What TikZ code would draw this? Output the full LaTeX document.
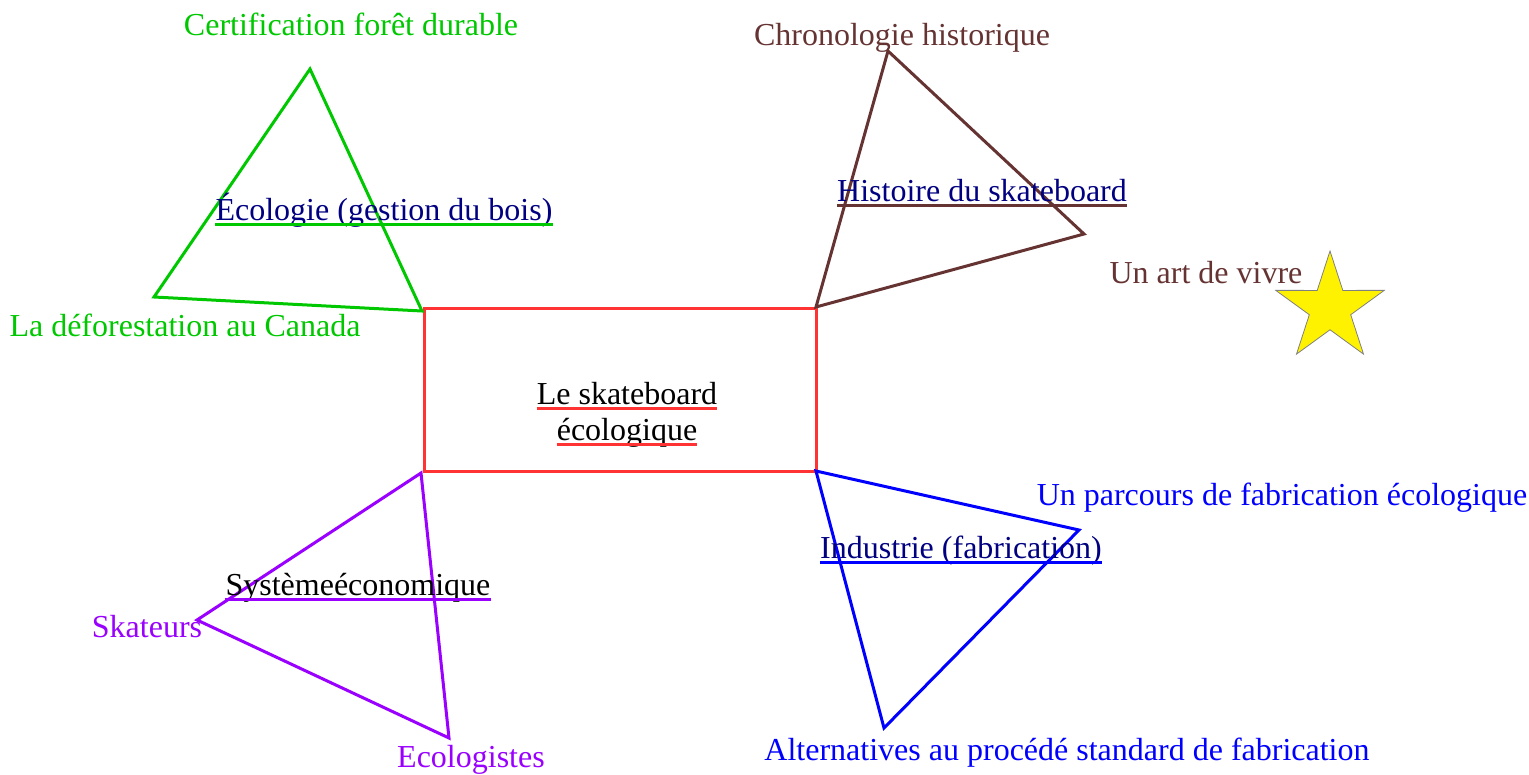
\documentclass[tikz,border=0pt]{standalone}
\usepackage{fontspec}
\setmainfont{Liberation Serif}
\usetikzlibrary{shapes.geometric}
\definecolor{cred}{HTML}{FF3333}
\definecolor{cgreen}{HTML}{00C800}
\definecolor{cbrown}{HTML}{663333}
\definecolor{cpurple}{HTML}{9900FF}
\definecolor{cblue}{HTML}{0000FF}
\definecolor{cnavy}{HTML}{000080}
\tikzset{
  lbl/.style={anchor=base, inner sep=0pt, font=\fontsize{32}{38}\selectfont},
  edge/.style={line width=3pt, line join=miter},
  uline/.style={line width=2.5pt}
}
\newcommand{\ulnode}[2]{\draw[uline,#2] ([yshift=-4.5pt]#1.base west) -- ([yshift=-4.5pt]#1.base east);}
\begin{document}
\begin{tikzpicture}[x=1pt,y=-1pt]
\useasboundingbox (0,0) rectangle (1529,774);
% central box
\node[draw=cred, edge, minimum width=392pt, minimum height=163pt, inner sep=0pt] (box) at (620,389.5) {};
\node[lbl] (c1) at (627,404) {Le skateboard};
\node[lbl] (c2) at (627,440) {écologique};
\ulnode{c1}{cred}
\ulnode{c2}{cred}
% green triangle
\coordinate (g1) at (310,69);
\coordinate (g2) at (154,297);
\coordinate (g3) at (422,311);
\draw[edge, cgreen] (g1) -- (g2) -- (g3) -- cycle;
\node[lbl, text=cgreen] (gt) at (351,35) {Certification forêt durable};
\node[lbl, text=cgreen] (gl) at (185,336) {La déforestation au Canada};
\node[lbl, text=cnavy] (gm) at (384,220) {Écologie (gestion du bois)};
\ulnode{gm}{cgreen}
% brown triangle
\coordinate (b1) at (888,51);
\coordinate (b2) at (816,307);
\coordinate (b3) at (1084,234);
\draw[edge, cbrown] (b1) -- (b2) -- (b3) -- cycle;
\node[lbl, text=cbrown] (bt) at (902,45) {Chronologie historique};
\node[lbl, text=cnavy] (bm) at (982,201) {Histoire du skateboard};
\ulnode{bm}{cbrown}
\node[lbl, text=cbrown] (br) at (1206,283) {Un art de vivre};
\node[star, star points=5, star point ratio=2.62, minimum size=114pt, inner sep=0pt, fill=yellow, draw=gray, line width=0.8pt] (st) at (1330,308) {};
% blue triangle
\coordinate (u1) at (816,471);
\coordinate (u2) at (1079,530);
\coordinate (u3) at (884,728);
\draw[edge, cblue] (u1) -- (u2) -- (u3) -- cycle;
\node[lbl, text=cblue] (ur) at (1282,505) {Un parcours de fabrication écologique};
\node[lbl, text=cnavy] (um) at (961,558) {Industrie (fabrication)};
\ulnode{um}{cblue}
\node[lbl, text=cblue] (ub) at (1067,760) {Alternatives au procédé standard de fabrication};
% purple triangle
\coordinate (p1) at (421,473);
\coordinate (p2) at (197,620);
\coordinate (p3) at (449,738);
\draw[edge, cpurple] (p1) -- (p2) -- (p3) -- cycle;
\node[lbl, text=cpurple] (pl) at (147,637) {Skateurs};
\node[lbl, text=black] (pm) at (358,595) {Systèmeéconomique};
\ulnode{pm}{cpurple}
\node[lbl, text=cpurple] (pb) at (471,767) {Ecologistes};
\end{tikzpicture}
\end{document}
